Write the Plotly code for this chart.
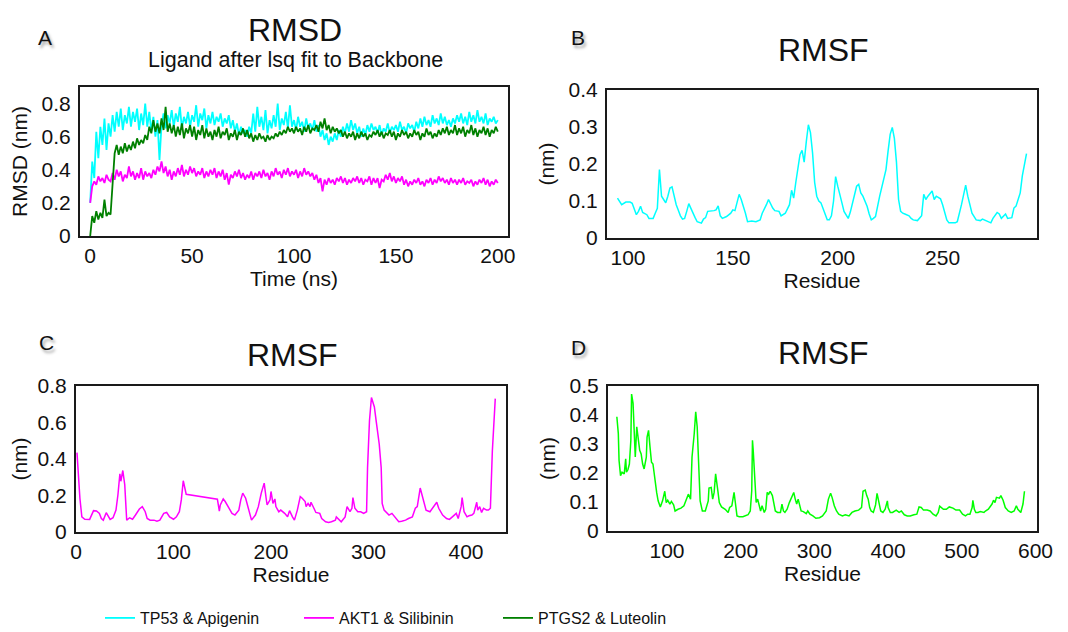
import plotly.graph_objects as go

# ---------------- DATA ----------------
# Panel A: ligand RMSD (nm) vs time (ns), one value per ns
rmsd_time_ns = list(range(0, 201))
rmsd_tp53_apigenin = [
    0.20, 0.45, 0.35, 0.63, 0.47, 0.66, 0.55, 0.71, 0.52, 0.68,
    0.60, 0.73, 0.63, 0.75, 0.66, 0.77, 0.64, 0.73, 0.68, 0.78,
    0.66, 0.75, 0.69, 0.77, 0.64, 0.74, 0.67, 0.80, 0.66, 0.75,
    0.63, 0.72, 0.60, 0.70, 0.46, 0.67, 0.74, 0.65, 0.73, 0.68,
    0.76, 0.66, 0.74, 0.69, 0.78, 0.65, 0.72, 0.68, 0.75, 0.66,
    0.73, 0.69, 0.79, 0.66, 0.74, 0.70, 0.77, 0.65, 0.73, 0.68,
    0.75, 0.67, 0.72, 0.69, 0.74, 0.66, 0.71, 0.68, 0.73, 0.65,
    0.70, 0.63, 0.68, 0.61, 0.66, 0.62, 0.64, 0.60, 0.66, 0.62,
    0.74, 0.63, 0.78, 0.66, 0.72, 0.64, 0.76, 0.62, 0.70, 0.65,
    0.73, 0.66, 0.80, 0.64, 0.71, 0.67, 0.75, 0.65, 0.79, 0.66,
    0.70, 0.64, 0.72, 0.66, 0.69, 0.63, 0.71, 0.65, 0.68, 0.64,
    0.70, 0.63, 0.67, 0.60, 0.64, 0.58, 0.62, 0.55, 0.60, 0.57,
    0.62, 0.58, 0.64, 0.60, 0.66, 0.62, 0.68, 0.63, 0.70, 0.64,
    0.68, 0.62, 0.66, 0.60, 0.65, 0.61, 0.67, 0.63, 0.68, 0.64,
    0.66, 0.62, 0.67, 0.61, 0.65, 0.63, 0.68, 0.62, 0.66, 0.64,
    0.67, 0.63, 0.69, 0.64, 0.66, 0.62, 0.68, 0.65, 0.67, 0.63,
    0.69, 0.65, 0.71, 0.66, 0.72, 0.67, 0.70, 0.66, 0.73, 0.68,
    0.71, 0.67, 0.74, 0.68, 0.72, 0.67, 0.70, 0.66, 0.71, 0.68,
    0.73, 0.69, 0.74, 0.68, 0.72, 0.67, 0.75, 0.69, 0.73, 0.68,
    0.76, 0.69, 0.72, 0.68, 0.74, 0.67, 0.71, 0.69, 0.72, 0.68,
    0.70,
]
rmsd_akt1_silibinin = [
    0.20, 0.30, 0.33, 0.31, 0.36, 0.33, 0.35, 0.32, 0.37, 0.34,
    0.33, 0.38, 0.34, 0.40, 0.36, 0.39, 0.33, 0.37, 0.35, 0.42,
    0.36, 0.39, 0.34, 0.38, 0.35, 0.41, 0.34, 0.39, 0.36, 0.38,
    0.35, 0.40, 0.37, 0.42, 0.39, 0.45, 0.38, 0.42, 0.36, 0.40,
    0.34, 0.39, 0.36, 0.41, 0.37, 0.43, 0.36, 0.40, 0.37, 0.42,
    0.38, 0.41, 0.36, 0.39, 0.37, 0.41, 0.35, 0.39, 0.36, 0.40,
    0.37, 0.41, 0.35, 0.39, 0.36, 0.40, 0.34, 0.38, 0.31, 0.37,
    0.35, 0.39, 0.36, 0.40, 0.35, 0.38, 0.34, 0.37, 0.35, 0.39,
    0.34, 0.38, 0.36, 0.39, 0.35, 0.40, 0.36, 0.38, 0.34, 0.39,
    0.36, 0.41, 0.37, 0.39, 0.35, 0.40, 0.37, 0.41, 0.36, 0.39,
    0.37, 0.40, 0.35, 0.39, 0.36, 0.41, 0.37, 0.39, 0.36, 0.38,
    0.34, 0.37, 0.32, 0.35, 0.27, 0.34, 0.31, 0.35, 0.32, 0.34,
    0.31, 0.35, 0.33, 0.36, 0.32, 0.35, 0.31, 0.34, 0.32, 0.35,
    0.33, 0.36, 0.32, 0.35, 0.31, 0.34, 0.33, 0.36, 0.31, 0.35,
    0.32, 0.35, 0.29, 0.34, 0.33, 0.37, 0.34, 0.38, 0.33, 0.36,
    0.32, 0.35, 0.33, 0.36, 0.31, 0.34, 0.30, 0.33, 0.31, 0.34,
    0.32, 0.35, 0.31, 0.33, 0.30, 0.34, 0.32, 0.35, 0.31, 0.34,
    0.32, 0.36, 0.33, 0.35, 0.32, 0.34, 0.31, 0.35, 0.32, 0.34,
    0.31, 0.34, 0.32, 0.35, 0.31, 0.33, 0.32, 0.34, 0.30, 0.33,
    0.31, 0.34, 0.32, 0.35, 0.31, 0.34, 0.30, 0.33, 0.31, 0.34,
    0.32,
]
rmsd_ptgs2_luteolin = [
    0.00, 0.12, 0.08, 0.15, 0.10, 0.14, 0.11, 0.22, 0.12, 0.14,
    0.13, 0.35, 0.50, 0.55, 0.49, 0.54, 0.50, 0.56, 0.51, 0.55,
    0.52, 0.57, 0.53, 0.59, 0.55, 0.58, 0.56, 0.61, 0.58, 0.66,
    0.62, 0.70, 0.63, 0.68, 0.62, 0.71, 0.64, 0.78, 0.63, 0.68,
    0.62, 0.67, 0.60, 0.66, 0.61, 0.68, 0.59, 0.65, 0.62, 0.67,
    0.60, 0.66, 0.58, 0.64, 0.61, 0.67, 0.59, 0.65, 0.60, 0.63,
    0.58, 0.64, 0.60, 0.66, 0.59, 0.63, 0.61, 0.65, 0.58, 0.62,
    0.60, 0.64, 0.58, 0.63, 0.61, 0.65, 0.60, 0.64, 0.59, 0.62,
    0.57, 0.61, 0.58, 0.62, 0.59, 0.60, 0.57, 0.61, 0.58, 0.60,
    0.59, 0.62, 0.60, 0.63, 0.61, 0.64, 0.62, 0.66, 0.63, 0.65,
    0.62, 0.66, 0.63, 0.65, 0.61, 0.66, 0.63, 0.67, 0.62, 0.65,
    0.64, 0.67, 0.63, 0.69, 0.65, 0.71, 0.64, 0.67, 0.62, 0.66,
    0.63, 0.65, 0.62, 0.64, 0.60, 0.63, 0.59, 0.62, 0.60, 0.63,
    0.58, 0.62, 0.59, 0.63, 0.60, 0.62, 0.58, 0.61, 0.60, 0.63,
    0.61, 0.64, 0.60, 0.63, 0.59, 0.62, 0.61, 0.64, 0.60, 0.63,
    0.58, 0.62, 0.60, 0.64, 0.61, 0.63, 0.59, 0.62, 0.60, 0.64,
    0.61, 0.63, 0.58, 0.62, 0.60, 0.65, 0.61, 0.63, 0.59, 0.62,
    0.60, 0.64, 0.61, 0.65, 0.62, 0.66, 0.61, 0.64, 0.62, 0.67,
    0.61, 0.65, 0.62, 0.66, 0.60, 0.64, 0.62, 0.67, 0.61, 0.65,
    0.60, 0.64, 0.62, 0.66, 0.61, 0.65, 0.60, 0.64, 0.62, 0.66,
    0.63,
]

# Panel B: RMSF TP53 (nm) by residue
rmsf_tp53_residue = [
    95, 97, 99, 101, 102, 104, 105, 106, 107, 109, 110, 112, 113, 114, 115, 116, 117, 118, 119, 120,
    121, 122, 123, 124, 125, 126, 127, 128, 129, 130, 131, 132, 133, 135, 136, 137, 138, 140, 141, 142,
    143, 144, 145, 147, 149, 150, 151, 153, 154, 156, 157, 159, 161, 163, 164, 166, 167, 169, 170, 172,
    173, 175, 177, 178, 179, 180, 181, 182, 183, 184, 185, 186, 187, 188, 189, 190, 191, 192, 193, 194,
    195, 196, 197, 198, 199, 200, 201, 202, 203, 205, 206, 208, 209, 210, 211, 212, 214, 215, 216, 217,
    218, 220, 222, 223, 224, 225, 226, 227, 228, 229, 230, 231, 232, 234, 235, 236, 238, 240, 241, 242,
    243, 245, 246, 247, 249, 250, 252, 253, 256, 257, 259, 261, 262, 264, 266, 268, 269, 271, 273, 274,
    276, 277, 278, 280, 281, 283, 284, 285, 287, 288, 290,
]
rmsf_tp53_nm = [
    0.108, 0.090, 0.097, 0.097, 0.094, 0.063, 0.072, 0.086, 0.069, 0.063, 0.053, 0.053, 0.067, 0.080, 0.185, 0.113, 0.104, 0.095, 0.113, 0.135,
    0.138, 0.110, 0.090, 0.075, 0.060, 0.051, 0.053, 0.072, 0.093, 0.080, 0.065, 0.055, 0.044, 0.040, 0.051, 0.055, 0.072, 0.072, 0.074, 0.076,
    0.087, 0.060, 0.053, 0.058, 0.067, 0.076, 0.074, 0.118, 0.104, 0.067, 0.044, 0.046, 0.044, 0.049, 0.067, 0.090, 0.104, 0.081, 0.074, 0.072,
    0.060, 0.067, 0.090, 0.129, 0.108, 0.150, 0.190, 0.225, 0.237, 0.205, 0.260, 0.306, 0.285, 0.230, 0.150, 0.113, 0.100, 0.095, 0.080, 0.062,
    0.049, 0.049, 0.060, 0.100, 0.166, 0.140, 0.120, 0.095, 0.072, 0.053, 0.070, 0.113, 0.140, 0.145, 0.122, 0.113, 0.086, 0.065, 0.049, 0.053,
    0.058, 0.113, 0.160, 0.185, 0.235, 0.280, 0.299, 0.269, 0.205, 0.104, 0.072, 0.067, 0.065, 0.060, 0.053, 0.049, 0.047, 0.060, 0.118, 0.104,
    0.113, 0.127, 0.104, 0.113, 0.106, 0.090, 0.049, 0.041, 0.041, 0.044, 0.090, 0.143, 0.113, 0.067, 0.049, 0.047, 0.051, 0.047, 0.041, 0.053,
    0.069, 0.065, 0.053, 0.065, 0.053, 0.055, 0.081, 0.086, 0.122, 0.168, 0.228,
]

# Panel C: RMSF AKT1 (nm) by residue
rmsf_akt1_residue = [
    1, 2, 4, 6, 9, 14, 16, 18, 21, 24, 26, 28, 31, 33, 35, 38, 41, 43, 45, 46,
    48, 50, 51, 52, 55, 58, 61, 65, 68, 71, 73, 76, 80, 83, 86, 90, 93, 96, 100, 103,
    106, 108, 110, 112, 113, 145, 147, 148, 151, 153, 157, 160, 163, 167, 169, 171, 174, 177, 180, 184,
    187, 190, 193, 195, 196, 199, 200, 202, 204, 205, 208, 210, 214, 217, 219, 222, 224, 227, 230, 232,
    235, 236, 238, 240, 241, 244, 246, 250, 252, 256, 259, 262, 266, 267, 270, 272, 276, 278, 281, 283,
    284, 286, 289, 292, 295, 298, 299, 301, 303, 306, 308, 311, 313, 314, 316, 319, 321, 324, 328, 331,
    334, 338, 341, 345, 348, 350, 353, 356, 359, 363, 366, 370, 372, 376, 380, 383, 386, 390, 392, 395,
    396, 398, 401, 403, 406, 408, 411, 412, 414, 416, 418, 421, 423, 425, 427, 430,
]
rmsf_akt1_nm = [
    0.435, 0.352, 0.185, 0.083, 0.070, 0.069, 0.089, 0.117, 0.115, 0.102, 0.074, 0.065, 0.106, 0.083, 0.069, 0.078, 0.120, 0.204, 0.319, 0.278,
    0.337, 0.259, 0.148, 0.065, 0.078, 0.070, 0.093, 0.126, 0.139, 0.111, 0.074, 0.065, 0.065, 0.059, 0.065, 0.102, 0.107, 0.083, 0.070, 0.083,
    0.111, 0.176, 0.281, 0.222, 0.207, 0.180, 0.115, 0.148, 0.181, 0.167, 0.130, 0.102, 0.093, 0.120, 0.176, 0.213, 0.185, 0.120, 0.065, 0.093,
    0.139, 0.213, 0.268, 0.185, 0.148, 0.176, 0.222, 0.157, 0.181, 0.139, 0.111, 0.120, 0.102, 0.083, 0.117, 0.083, 0.065, 0.120, 0.194, 0.185,
    0.167, 0.139, 0.157, 0.139, 0.163, 0.130, 0.107, 0.102, 0.074, 0.056, 0.052, 0.056, 0.065, 0.083, 0.065, 0.056, 0.083, 0.139, 0.111, 0.130,
    0.189, 0.130, 0.111, 0.111, 0.102, 0.111, 0.352, 0.611, 0.737, 0.685, 0.602, 0.481, 0.352, 0.157, 0.120, 0.102, 0.093, 0.102, 0.078, 0.056,
    0.059, 0.065, 0.074, 0.083, 0.130, 0.139, 0.241, 0.176, 0.120, 0.111, 0.133, 0.163, 0.130, 0.093, 0.074, 0.069, 0.083, 0.102, 0.074, 0.139,
    0.189, 0.111, 0.083, 0.089, 0.093, 0.102, 0.163, 0.120, 0.139, 0.107, 0.130, 0.120, 0.120, 0.130, 0.444, 0.731,
]

# Panel D: RMSF PTGS2 (nm) by residue
rmsf_ptgs2_residue = [
    32, 34, 35, 37, 39, 42, 44, 45, 47, 49, 51, 52, 54, 56, 57, 59, 61, 63, 65, 67,
    69, 72, 73, 75, 77, 79, 81, 84, 86, 88, 91, 94, 97, 99, 101, 104, 106, 109, 111, 115,
    119, 123, 126, 129, 132, 134, 137, 139, 141, 143, 145, 148, 152, 156, 157, 160, 162, 164, 166, 169,
    171, 174, 179, 183, 185, 188, 191, 193, 195, 198, 203, 210, 213, 215, 216, 217, 219, 221, 223, 225,
    227, 229, 232, 234, 236, 238, 240, 243, 245, 247, 250, 254, 256, 258, 260, 263, 266, 269, 272, 274,
    276, 278, 280, 282, 285, 289, 291, 294, 298, 302, 307, 311, 316, 319, 322, 324, 327, 330, 333, 338,
    342, 347, 351, 355, 360, 364, 366, 369, 371, 373, 375, 377, 380, 383, 385, 387, 390, 393, 396, 399,
    400, 403, 406, 411, 415, 418, 422, 426, 430, 435, 439, 442, 445, 448, 453, 457, 461, 465, 468, 470,
    475, 479, 483, 488, 492, 497, 501, 505, 508, 511, 514, 515, 517, 519, 522, 525, 530, 532, 536, 541,
    543, 545, 547, 551, 553, 556, 559, 563, 567, 571, 574, 576, 580, 583, 585,
]
rmsf_ptgs2_nm = [
    0.394, 0.336, 0.243, 0.191, 0.203, 0.197, 0.249, 0.203, 0.211, 0.231, 0.313, 0.472, 0.440, 0.336, 0.255, 0.359, 0.307, 0.278, 0.266, 0.231,
    0.214, 0.255, 0.324, 0.347, 0.289, 0.237, 0.231, 0.162, 0.133, 0.104, 0.083, 0.104, 0.137, 0.098, 0.106, 0.093, 0.102, 0.090, 0.069, 0.075,
    0.079, 0.087, 0.110, 0.127, 0.110, 0.255, 0.336, 0.411, 0.359, 0.231, 0.104, 0.069, 0.069, 0.104, 0.148, 0.150, 0.110, 0.133, 0.197, 0.139,
    0.098, 0.083, 0.075, 0.064, 0.081, 0.087, 0.133, 0.093, 0.052, 0.049, 0.049, 0.056, 0.069, 0.139, 0.313, 0.278, 0.162, 0.098, 0.110, 0.090,
    0.069, 0.087, 0.064, 0.075, 0.133, 0.127, 0.137, 0.122, 0.093, 0.069, 0.064, 0.064, 0.093, 0.069, 0.064, 0.075, 0.098, 0.116, 0.133, 0.110,
    0.093, 0.110, 0.090, 0.069, 0.067, 0.060, 0.069, 0.058, 0.052, 0.044, 0.046, 0.052, 0.069, 0.110, 0.130, 0.116, 0.087, 0.069, 0.058, 0.052,
    0.056, 0.052, 0.064, 0.069, 0.072, 0.081, 0.137, 0.141, 0.122, 0.110, 0.081, 0.069, 0.064, 0.090, 0.130, 0.104, 0.069, 0.064, 0.075, 0.104,
    0.081, 0.064, 0.064, 0.072, 0.064, 0.069, 0.056, 0.052, 0.052, 0.056, 0.058, 0.083, 0.081, 0.072, 0.072, 0.069, 0.058, 0.052, 0.064, 0.086,
    0.075, 0.075, 0.083, 0.079, 0.072, 0.072, 0.058, 0.052, 0.058, 0.058, 0.081, 0.106, 0.075, 0.064, 0.064, 0.067, 0.064, 0.069, 0.075, 0.093,
    0.106, 0.098, 0.116, 0.113, 0.122, 0.106, 0.081, 0.069, 0.064, 0.069, 0.087, 0.075, 0.064, 0.093, 0.137,
]

legend_names = ["TP53 & Apigenin", "AKT1 & Silibinin", "PTGS2 & Luteolin"]
panel_letters = ["A", "B", "C", "D"]

# ---------------- STYLE ----------------
# The page body has an 8px margin, so the figure is drawn 8px smaller and
# reference pixel positions are shifted by that offset.
OFF = 8
W, H = 1068 - OFF, 632 - OFF
FONT = "Liberation Sans, Arial, Helvetica, sans-serif"
CYAN, MAGENTA, DKGREEN, LIME = "#00FFFF", "#FF00FF", "#008000", "#00FF00"


def fx(p):
    return (p - OFF) / W


def fy(p):
    return 1 - (p - OFF) / H


fig = go.Figure()

fig.add_trace(go.Scatter(x=rmsd_time_ns, y=rmsd_tp53_apigenin, mode="lines", name=legend_names[0],
                         line=dict(color=CYAN, width=1.8), xaxis="x", yaxis="y"))
fig.add_trace(go.Scatter(x=rmsd_time_ns, y=rmsd_akt1_silibinin, mode="lines", name=legend_names[1],
                         line=dict(color=MAGENTA, width=1.8), xaxis="x", yaxis="y"))
fig.add_trace(go.Scatter(x=rmsd_time_ns, y=rmsd_ptgs2_luteolin, mode="lines", name=legend_names[2],
                         line=dict(color=DKGREEN, width=1.8), xaxis="x", yaxis="y"))
fig.add_trace(go.Scatter(x=rmsf_tp53_residue, y=rmsf_tp53_nm, mode="lines", showlegend=False,
                         line=dict(color=CYAN, width=1.5), xaxis="x2", yaxis="y2"))
fig.add_trace(go.Scatter(x=rmsf_akt1_residue, y=rmsf_akt1_nm, mode="lines", showlegend=False,
                         line=dict(color=MAGENTA, width=1.5), xaxis="x3", yaxis="y3"))
fig.add_trace(go.Scatter(x=rmsf_ptgs2_residue, y=rmsf_ptgs2_nm, mode="lines", showlegend=False,
                         line=dict(color=LIME, width=1.5), xaxis="x4", yaxis="y4"))

TICKFONT = dict(family=FONT, size=21, color="#111")
TITLEFONT = dict(family=FONT, size=21, color="#111")


def xax(domain, anchor, rng, tickvals, title):
    return dict(domain=domain, anchor=anchor, range=rng, tickvals=tickvals, automargin=False,
                showline=True, mirror=True, linecolor="#1a1a1a", linewidth=2,
                showgrid=False, zeroline=False, ticks="", ticklabelstandoff=0,
                tickfont=TICKFONT, title=dict(text=title, font=TITLEFONT, standoff=0))


def yax(domain, anchor, rng, tickvals, title):
    return dict(domain=domain, anchor=anchor, range=rng, tickvals=tickvals, automargin=False,
                showline=True, mirror=True, linecolor="#1a1a1a", linewidth=2,
                showgrid=False, zeroline=False, ticks="", ticklabelstandoff=3,
                tickfont=TICKFONT, title=dict(text=title, font=TITLEFONT, standoff=8))


annotations = []


def text(x, y, s, size, shadow=None):
    f = dict(family=FONT, size=size, color="#111")
    if shadow:
        f["shadow"] = shadow
    annotations.append(dict(x=fx(x), y=fy(y), xref="paper", yref="paper", text=s,
                            showarrow=False, xanchor="center", yanchor="middle", font=f))


text(295, 30, "RMSD", 32)
text(295, 60, "Ligand after lsq fit to Backbone", 21.5)
text(823, 50, "RMSF", 32)
text(292, 355, "RMSF", 32)
text(823, 353, "RMSF", 32)
SH = "2px 3px 3px rgba(0,0,0,0.35)"
text(45, 37, panel_letters[0], 21, SH)
text(578, 37, panel_letters[1], 21, SH)
text(46, 342, panel_letters[2], 21, SH)
text(578, 348, panel_letters[3], 21, SH)

fig.update_layout(
    width=W, height=H, margin=dict(l=0, r=0, t=0, b=0, autoexpand=False),
    paper_bgcolor="white", plot_bgcolor="white",
    font=dict(family=FONT, color="#111"),
    xaxis=xax([fx(80), fx(508)], "y", [-5, 205], [0, 50, 100, 150, 200], "Time (ns)"),
    yaxis=yax([fy(236), fy(87)], "x", [0, 0.9], [0, 0.2, 0.4, 0.6, 0.8], "RMSD (nm)"),
    xaxis2=xax([fx(607), fx(1037)], "y2", [90, 295], [100, 150, 200, 250], "Residue"),
    yaxis2=yax([fy(238), fy(90)], "x2", [0, 0.4], [0, 0.1, 0.2, 0.3, 0.4], "(nm)"),
    xaxis3=xax([fx(76), fx(506)], "y3", [0, 441], [0, 100, 200, 300, 400], "Residue"),
    yaxis3=yax([fy(532), fy(386)], "x3", [0, 0.8], [0, 0.2, 0.4, 0.6, 0.8], "(nm)"),
    xaxis4=xax([fx(608), fx(1037)], "y4", [20, 602], [100, 200, 300, 400, 500, 600], "Residue"),
    yaxis4=yax([fy(531), fy(386)], "x4", [0, 0.5], [0, 0.1, 0.2, 0.3, 0.4, 0.5], "(nm)"),
    legend=dict(orientation="h", x=fx(100), y=fy(618), xanchor="left", yanchor="middle",
                font=dict(family=FONT, size=16, color="#111"), entrywidth=154,
                entrywidthmode="pixels", bgcolor="rgba(0,0,0,0)"),
    annotations=annotations,
    showlegend=True,
)

fig.write_html("out.html")
